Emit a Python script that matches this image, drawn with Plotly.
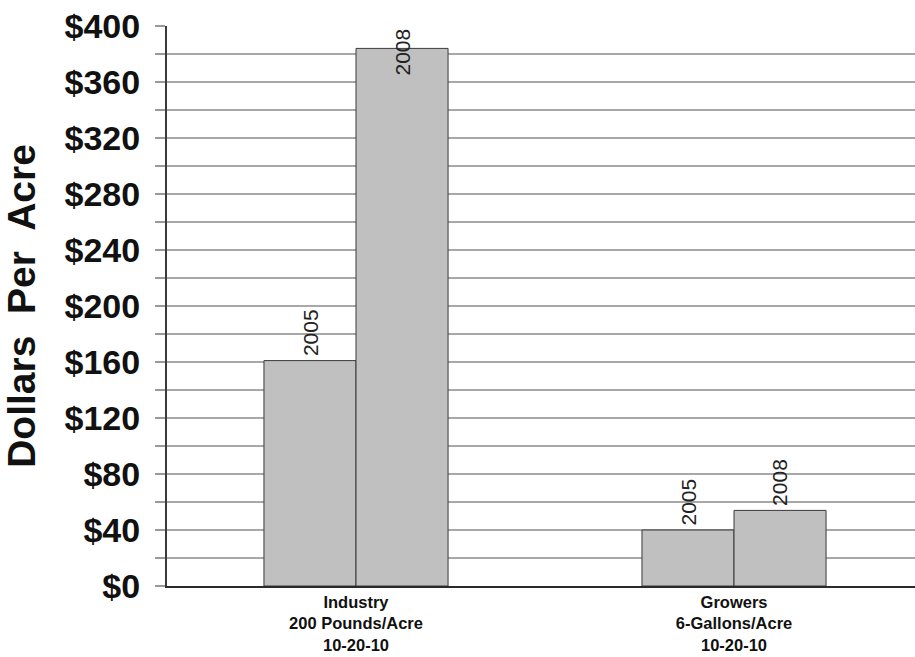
import plotly.graph_objects as go

# Fertilizer cost per acre, two programs, two years
categories = ["Industry<br>200 Pounds/Acre<br>10-20-10", "Growers<br>6-Gallons/Acre<br>10-20-10"]
years = ["2005", "2008"]
cost_2005 = [161, 40]
cost_2008 = [384, 54]
series = {"2005": cost_2005, "2008": cost_2008}

tick_vals = [0, 40, 80, 120, 160, 200, 240, 280, 320, 360, 400]
tick_text = ["$0", "$40", "$80", "$120", "$160", "$200", "$240", "$280", "$320", "$360", "$400"]

FONT = "Liberation Sans, Arial, sans-serif"
BAR_FILL = "#c0c0c0"
BAR_EDGE = "#3a3a3a"
Y_MAX = 400
BAR_WIDTH = 0.2434  # in category units; bargap below yields this width

fig = go.Figure()
for yr in years:
    fig.add_trace(go.Bar(
        x=categories, y=series[yr], name=yr,
        marker=dict(color=BAR_FILL, line=dict(color=BAR_EDGE, width=1)),
        showlegend=False,
    ))

# Rotated year labels on top of each bar (kept inside the plot when near the top)
label_span = 34  # approximate label length in data units
annotations = []
for j, yr in enumerate(years):
    offset = (j - 0.5) * BAR_WIDTH
    for i, v in enumerate(series[yr]):
        if v + label_span > Y_MAX:
            y, anchor, shift = Y_MAX, "top", -1
        else:
            y, anchor, shift = v, "bottom", 2
        annotations.append(dict(
            x=i + offset, y=y, xref="x", yref="y", text=yr, textangle=-90,
            showarrow=False, yanchor=anchor, xanchor="center", yshift=shift,
            font=dict(family=FONT, size=21, color="#222222"),
        ))

fig.update_layout(
    width=915, height=657,
    margin=dict(l=167, r=0, t=26, b=71),
    paper_bgcolor="white", plot_bgcolor="white",
    barmode="group", bargap=0.513, bargroupgap=0,
    annotations=annotations,
    font=dict(family=FONT, color="#111111"),
)
fig.update_xaxes(
    range=[-0.5, 1.4788], automargin=False,
    showline=True, linecolor="#2a2a2a", linewidth=2,
    showgrid=False, ticks="",
    ticklabelstandoff=0,
    tickfont=dict(family=FONT, size=16.5, color="#111111", weight="bold"),
)
fig.update_yaxes(
    range=[0, Y_MAX], automargin=False,
    tickvals=tick_vals, ticktext=tick_text,
    ticks="outside", ticklen=10, tickcolor="#999999", tickwidth=2,
    ticklabelstandoff=8,
    showline=True, linecolor="#3a3a3a", linewidth=2,
    showgrid=True, gridcolor="#a8a8a8", gridwidth=2,
    minor=dict(dtick=20, showgrid=True, gridcolor="#a8a8a8", gridwidth=2,
               ticks="outside", ticklen=10, tickcolor="#999999", tickwidth=2),
    tickfont=dict(family=FONT, size=34, color="#111111", weight="bold"),
    title=dict(text="Dollars  Per  Acre", standoff=20,
               font=dict(family=FONT, size=39, color="#111111", weight="bold")),
    zeroline=False,
)

fig.write_html("out.html")
